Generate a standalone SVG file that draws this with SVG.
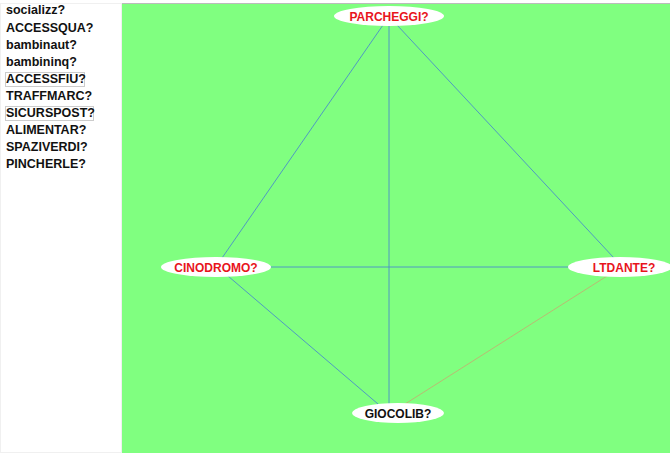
<svg xmlns="http://www.w3.org/2000/svg" width="670" height="453" viewBox="0 0 670 453">
<style>
.lst{font-family:"Liberation Sans",Arial,sans-serif;font-weight:bold;font-size:12.5px;fill:#111}
.nt{font-family:"Liberation Sans",Arial,sans-serif;font-weight:bold;font-size:12px;text-anchor:middle}
.red{fill:#e8141c}
.blk{fill:#111}
.e{stroke:#4a8fc8;stroke-width:0.9;fill:none}
.o{stroke:#c8a870;stroke-width:0.8;fill:none}
ellipse{fill:#fff}
</style>
<rect x="0" y="0" width="670" height="453" fill="#fff"/>
<rect x="0.5" y="3.5" width="121" height="449" fill="#fff" stroke="#f0f0f0"/>
<rect x="122" y="3" width="548" height="450" fill="#80ff80"/>
<line x1="122" y1="3.5" x2="670" y2="3.5" stroke="#bbb" stroke-width="1"/>
<g id="list">
<text class="lst" x="6" y="14">socializz?</text>
<text class="lst" x="6" y="32">ACCESSQUA?</text>
<text class="lst" x="6" y="49">bambinaut?</text>
<text class="lst" x="6" y="66">bambininq?</text>
<rect x="5.5" y="72.5" width="79" height="14" fill="none" stroke="#ccc"/>
<text class="lst" x="6" y="83">ACCESSFIU?</text>
<text class="lst" x="6" y="100">TRAFFMARC?</text>
<rect x="5.5" y="106.5" width="88" height="14" fill="none" stroke="#ccc"/>
<text class="lst" x="6" y="117">SICURSPOST?</text>
<text class="lst" x="6" y="134">ALIMENTAR?</text>
<text class="lst" x="6" y="151">SPAZIVERDI?</text>
<text class="lst" x="6" y="168">PINCHERLE?</text>
</g>
<g id="edges">
<line class="e" x1="383" y1="25" x2="222" y2="258"/>
<line class="e" x1="389" y1="25" x2="389" y2="404"/>
<line class="e" x1="397" y1="25" x2="614" y2="258"/>
<line class="e" x1="268" y1="267" x2="570" y2="267"/>
<line class="e" x1="228" y1="276" x2="378" y2="404"/>
<line class="o" x1="607" y1="276" x2="405" y2="404"/>
</g>
<g id="PARCHEGGI">
<ellipse cx="389" cy="16" rx="55" ry="10"/>
<text class="nt red" x="389" y="20.5">PARCHEGGI?</text>
</g>
<g id="CINODROMO">
<ellipse cx="216" cy="267" rx="55" ry="10"/>
<text class="nt red" x="216" y="271.5">CINODROMO?</text>
</g>
<g id="LTDANTE">
<ellipse cx="620" cy="267" rx="52" ry="10"/>
<text class="nt red" x="624" y="271.5">LTDANTE?</text>
</g>
<g id="GIOCOLIB">
<ellipse cx="398" cy="413" rx="46" ry="10"/>
<text class="nt blk" x="398" y="417.5">GIOCOLIB?</text>
</g>
</svg>
